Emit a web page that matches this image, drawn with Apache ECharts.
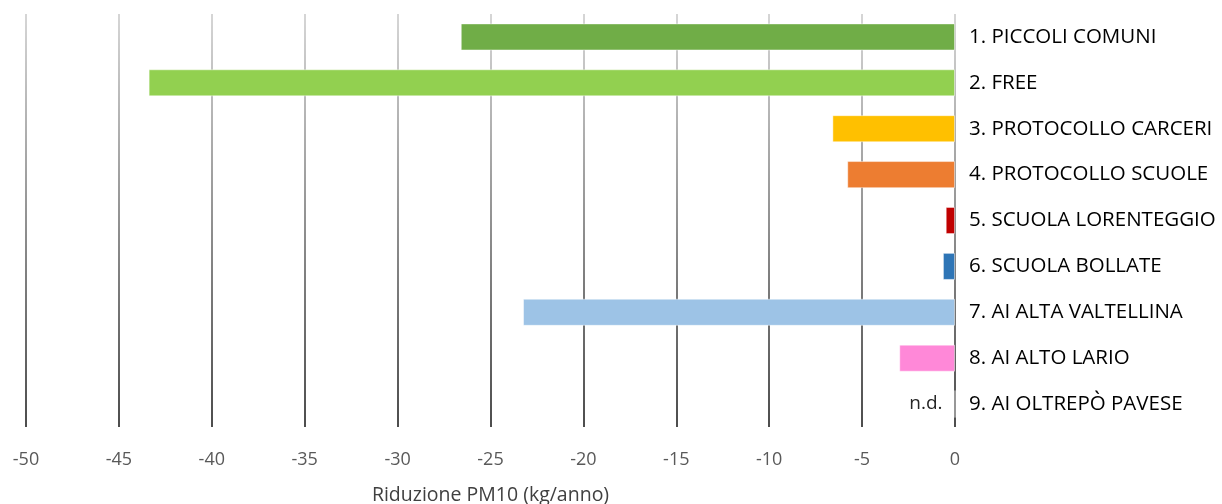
<!DOCTYPE html>
<html>
<head>
<meta charset="utf-8">
<script src="https://cdn.jsdelivr.net/npm/echarts@6/dist/echarts.min.js"></script>
<style>
  html, body { margin: 0; padding: 0; background: #fff; }
  #chart { width: 1222px; height: 504px; }
</style>
</head>
<body>
<div id="chart"></div>
<script>
// dati
var categories = ['1. PICCOLI COMUNI', '2. FREE', '3. PROTOCOLLO CARCERI', '4. PROTOCOLLO SCUOLE',
    '5. SCUOLA LORENTEGGIO', '6. SCUOLA BOLLATE', '7. AI ALTA VALTELLINA', '8. AI ALTO LARIO',
    '9. AI OLTREPÒ PAVESE'];
var values = [-26.6, -43.4, -6.6, -5.8, -0.5, -0.65, -23.25, -3.0, 0];
var notes = ['', '', '', '', '', '', '', '', 'n.d.'];
var xTicks = [-50, -45, -40, -35, -30, -25, -20, -15, -10, -5, 0];

var colors = ['#70AD47', '#92D050', '#FFC000', '#ED7D31', '#C00000', '#2E75B6', '#9DC3E6', '#FF88D8', '#FFFFFF'];

var myChart = echarts.init(document.getElementById('chart'));

var seriesData = values.map(function (v, i) {
    var item = {
        value: v,
        itemStyle: { color: colors[i] }
    };
    if (notes[i]) {
        item.label = {
            show: true,
            position: 'left',
            distance: 12,
            formatter: notes[i],
            color: '#262626',
            fontSize: 19,
            padding: [6, 0, 0, 0],
            fontFamily: 'Open Sans'
        };
    }
    return item;
});

var option = {
    animation: false,
    textStyle: { fontFamily: 'Open Sans' },
    grid: {
        left: 26,
        right: 267,
        top: 14,
        bottom: 77,
        outerBoundsMode: 'none'
    },
    xAxis: {
        type: 'value',
        min: xTicks[0],
        max: xTicks[xTicks.length - 1],
        interval: 5,
        name: 'Riduzione PM10 (kg/anno)',
        nameLocation: 'middle',
        nameGap: 58,
        nameTextStyle: { color: '#404040', fontSize: 19.5, fontFamily: 'Open Sans' },
        axisLine: { show: false },
        axisTick: { show: false },
        axisLabel: { color: '#595959', fontSize: 18, margin: 24, fontFamily: 'Open Sans' },
        splitLine: {
            show: true,
            showMinLine: true,
            showMaxLine: true,
            lineStyle: {
                width: 1.5,
                color: {
                    type: 'linear',
                    x: 0, y: 14, x2: 0, y2: 427,
                    global: true,
                    colorStops: [
                        { offset: 0, color: '#c8c8c8' },
                        { offset: 1, color: '#111111' }
                    ]
                }
            }
        }
    },
    yAxis: {
        type: 'category',
        data: categories,
        inverse: true,
        position: 'right',
        axisLine: { show: false },
        axisTick: { show: false },
        splitLine: { show: false },
        axisLabel: {
            color: '#000000',
            fontSize: 20.5,
            margin: 14,
            align: 'left',
            padding: [4, 0, 0, 0],
            fontFamily: 'Open Sans'
        }
    },
    series: [{
        type: 'bar',
        data: seriesData,
        barCategoryGap: '41%',
        itemStyle: {
            borderColor: 'rgba(255,255,255,0.45)',
            borderWidth: 1
        }
    }]
};

myChart.setOption(option);
window.addEventListener('resize', function () {
    myChart.resize();
});
</script>
</body>
</html>
